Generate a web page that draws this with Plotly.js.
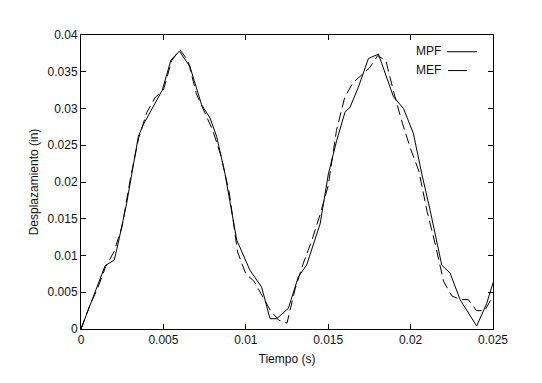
<!DOCTYPE html>
<html><head><meta charset="utf-8">
<script src="https://cdn.plot.ly/plotly-3.0.1.min.js"></script>
<style>html,body{margin:0;padding:0;background:#fff}</style>
</head><body>
<div id="chart" style="width:542px;height:383px"></div>
<script>
// MPF (solid)
const mpfT = [0,0.00044,0.00095,0.00146,0.00202,0.00226,0.00277,0.00348,0.00378,0.00439,0.00493,0.00546,0.00597,0.00661,0.00732,0.00783,0.00823,0.00874,0.00945,0.01025,0.01096,0.01147,0.01187,0.01258,0.01319,0.01369,0.01451,0.01501,0.01551,0.01602,0.01633,0.01683,0.01744,0.01805,0.01896,0.01957,0.02017,0.02068,0.02118,0.02189,0.02240,0.02300,0.02401,0.02462,0.02502];
const mpfY = [0,0.0026,0.0057,0.0086,0.0094,0.0117,0.0171,0.0262,0.0278,0.0302,0.0325,0.0366,0.0378,0.0357,0.0305,0.0287,0.0262,0.0211,0.0121,0.0080,0.0057,0.0014,0.0014,0.0028,0.0071,0.0087,0.0143,0.0211,0.0256,0.0295,0.0302,0.0329,0.0368,0.0374,0.0316,0.0300,0.0266,0.0211,0.0162,0.0087,0.0076,0.0040,0.0004,0.0035,0.0064];
// MEF (dashed)
const mefT = [0,0.0005,0.001,0.0015,0.002,0.0025,0.003,0.0035,0.004,0.0045,0.005,0.0055,0.006,0.0065,0.007,0.0075,0.008,0.0085,0.009,0.0095,0.010,0.0105,0.011,0.0115,0.012,0.0125,0.013,0.0135,0.014,0.0145,0.015,0.0155,0.016,0.0165,0.017,0.0175,0.018,0.0185,0.019,0.0195,0.020,0.0205,0.021,0.0215,0.022,0.0225,0.023,0.0235,0.024,0.0245,0.025];
const mefY = [0,0.003,0.0055,0.0085,0.0105,0.014,0.0205,0.026,0.0295,0.0315,0.0325,0.0365,0.038,0.0365,0.032,0.0295,0.027,0.0235,0.0185,0.0105,0.0075,0.0065,0.0045,0.0025,0.0012,0.0008,0.0055,0.009,0.012,0.0155,0.0195,0.027,0.0315,0.0335,0.0345,0.0355,0.0372,0.0365,0.032,0.028,0.0245,0.0215,0.016,0.0115,0.0065,0.0045,0.004,0.004,0.0025,0.0025,0.0045];
const xTicks = [0,0.005,0.01,0.015,0.02,0.025];
const xLabels = ["0","0.005","0.01","0.015","0.02","0.025"];
const yTicks = [0,0.005,0.01,0.015,0.02,0.025,0.03,0.035,0.04];
const yLabels = ["0","0.005","0.01","0.015","0.02","0.025","0.03","0.035","0.04"];
const seriesNames = ["MPF","MEF"];

const font = {family:"Liberation Sans, Arial, sans-serif", size:12, color:"#111"};
const traces = [
  {x:mpfT, y:mpfY, mode:"lines", name:seriesNames[0], line:{color:"#000", width:1}},
  {x:mefT, y:mefY, mode:"lines", name:seriesNames[1], line:{color:"#000", width:1, dash:"10px,5px"}}
];
const axisCommon = {showline:true, linecolor:"#000", linewidth:1, mirror:"ticks", ticks:"inside", ticklen:5, tickcolor:"#000", showgrid:false, zeroline:false, tickfont:font, tickmode:"array"};
const layout = {
  width:542, height:383, margin:{l:81, r:49, t:35, b:54},
  paper_bgcolor:"#fff", plot_bgcolor:"#fff", font:font, showlegend:false,
  xaxis:Object.assign({}, axisCommon, {range:[0,0.025], tickvals:xTicks, ticktext:xLabels, title:{text:"Tiempo (s)", font:font, standoff:8}}),
  yaxis:Object.assign({}, axisCommon, {range:[0,0.04], tickvals:yTicks, ticktext:yLabels, title:{text:"Desplazamiento (in)", font:font, standoff:6}}),
  annotations:[
    {xref:"paper", yref:"paper", x:0.808, y:0.946, xanchor:"left", yanchor:"middle", text:seriesNames[0], showarrow:false, font:font},
    {xref:"paper", yref:"paper", x:0.808, y:0.882, xanchor:"left", yanchor:"middle", text:seriesNames[1], showarrow:false, font:font}
  ],
  shapes:[
    {type:"line", xref:"paper", yref:"paper", x0:0.888, x1:0.961, y0:0.943, y1:0.943, line:{color:"#000", width:1}},
    {type:"line", xref:"paper", yref:"paper", x0:0.891, x1:0.937, y0:0.879, y1:0.879, line:{color:"#000", width:1}}
  ]
};
Plotly.newPlot("chart", traces, layout, {displayModeBar:false, staticPlot:true});
</script>
</body></html>
